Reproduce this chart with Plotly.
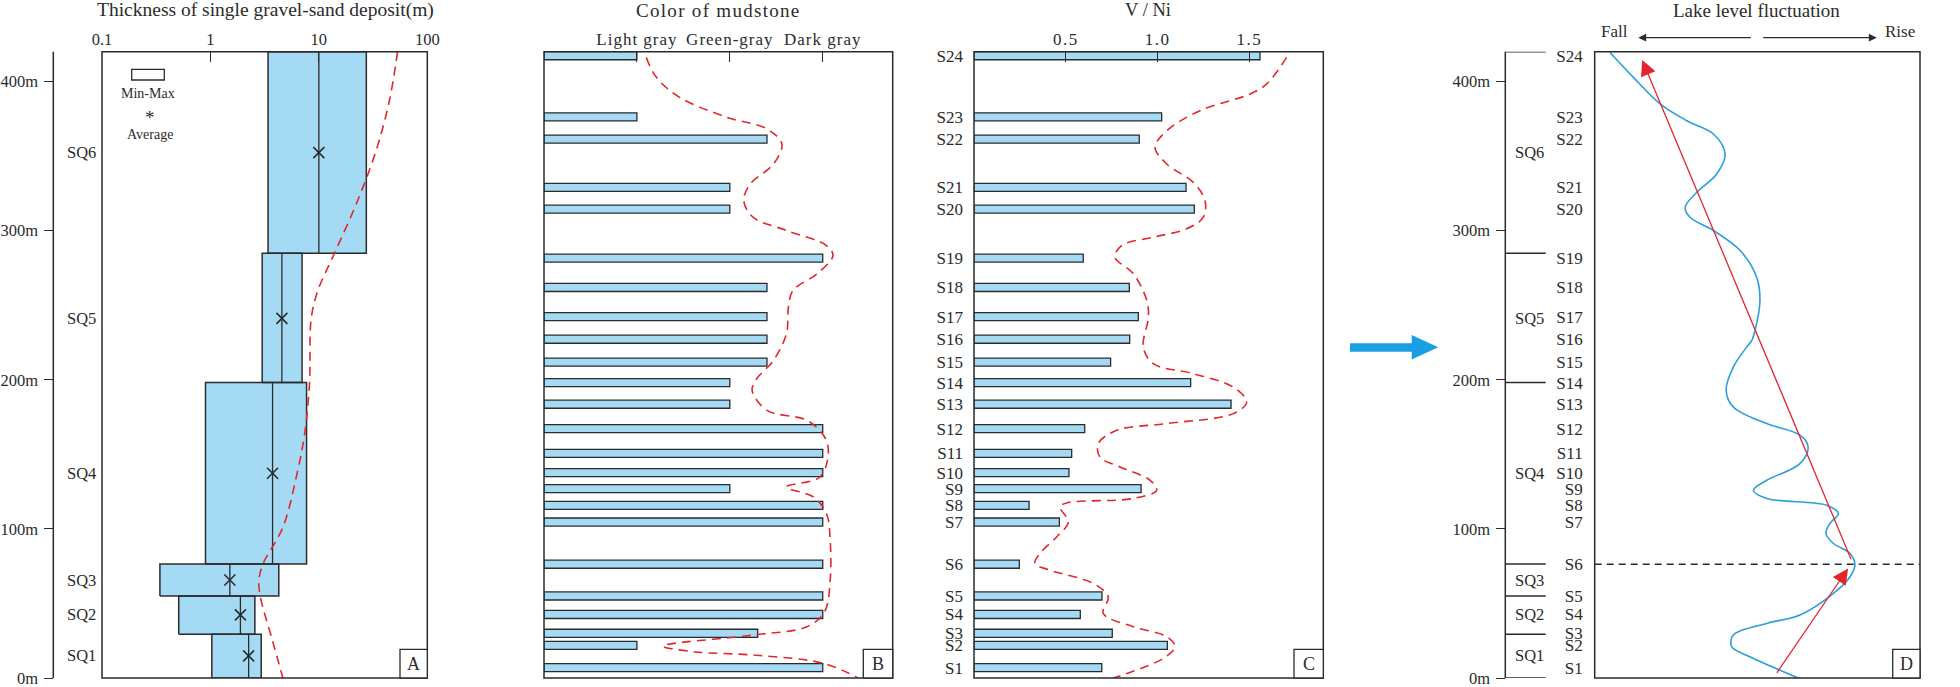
import plotly.graph_objects as go

W, H = 1960, 687


def px(x):
    return x / W


def py(y):
    return 1 - y / H


FONT = "Liberation Serif"
INK = "#2b2b2b"
FILL = "#a5daf4"
RED = "#e3262e"
BLUE = "#2a9fd9"
ARROW_BLUE = "#1a9fe5"

# ---------------- data ----------------
depth_ticks = [0, 100, 200, 300, 400]
depth_labels = ["0m", "100m", "200m", "300m", "400m"]
DEPTH_MAX = 420.0

sq_names = ["SQ1", "SQ2", "SQ3", "SQ4", "SQ5", "SQ6"]
sq_bottom = [0.0, 29.3, 55.0, 76.5, 198.1, 284.8]
sq_top = [29.3, 55.0, 76.5, 198.1, 284.8, 420.0]
sq_mid = [14.8, 42.3, 65.7, 137.3, 241.2, 352.3]

thick_min = [1.03, 0.51, 0.342, 0.90, 3.0, 3.4]
thick_max = [2.94, 2.57, 4.27, 7.7, 7.0, 27.4]
thick_avg = [2.25, 1.89, 1.51, 3.74, 4.56, 10.0]
thick_ticks = [0.1, 1, 10, 100]
thick_ticklabels = ["0.1", "1", "10", "100"]

trendA_depth = [420, 387.1, 353.6, 320.2, 284.7, 259.9, 241.1, 197.6, 164.1, 137.3, 101.1, 76.4, 65.6, 54.9, 25.5, 0]
trendA_val = [53.2, 44.7, 33.7, 22.8, 13.9, 9.8, 8.5, 8.2, 7.4, 6.3, 4.66, 3.05, 2.8, 2.88, 3.72, 4.66]

s_names = ["S%d" % i for i in range(1, 25)]
s_depth = [7.0, 21.9, 30.0, 42.6, 55.0, 76.3, 104.6, 115.8, 127.0, 137.7, 150.6, 167.2,
           183.6, 198.1, 211.8, 227.2, 242.3, 261.9, 281.6, 314.4, 329.0, 361.4, 376.3, 417.3]

color_ticks = [1, 2, 3]
color_labels = ["Light gray", "Green-gray", "Dark gray"]
mud_color = [3, 1, 2.3, 3, 3, 3, 3, 3, 2, 3, 3, 3,
             2, 2, 2.4, 2.4, 2.4, 2.4, 3, 2, 2, 2.4, 1, 1]

trendB_depth = [416.2, 402.8, 389.4, 376.0, 368.2, 358.1, 344.7, 331.3, 320.2, 309.0, 300.1, 290.0,
                283.3, 271.1, 259.9, 248.7, 230.9, 213.0, 200.7, 192.9, 179.5, 172.8, 161.6,
                150.5, 134.8, 128.1, 121.4, 110.3, 92.4, 65.6, 44.4, 34.4, 28.8, 21.4, 17.6, 15.4, 9.8, 0]
trendB_val = [1.10, 1.21, 1.46, 1.97, 2.40, 2.56, 2.47, 2.22, 2.15, 2.25, 2.61, 3.04,
              3.11, 2.94, 2.68, 2.63, 2.61, 2.47, 2.29, 2.24, 2.40, 2.83, 3.02,
              3.06, 2.97, 2.61, 2.90, 3.04, 3.08, 3.08, 3.02, 2.83, 2.25, 1.28, 1.61, 2.25, 3.01, 3.38]

vni_ticks = [0.5, 1.0, 1.5]
vni_ticklabels = ["0.5", "1.0", "1.5"]
vni = [0.696, 1.053, 0.753, 0.579, 0.697, 0.247, 0.465, 0.300, 0.910, 0.517, 0.532, 0.603,
       1.400, 1.180, 0.744, 0.848, 0.895, 0.846, 0.595, 1.200, 1.155, 0.900, 1.022, 1.558]

trendC_depth = [416.2, 398.4, 391.6, 380.4, 367.0, 355.9, 344.7, 332.4, 320.2, 309.0, 301.2, 295.6,
                290.0, 282.2, 271.1, 253.2, 242.0, 221.9, 210.8, 204.1, 195.1, 185.1, 177.3,
                170.6, 166.1, 157.2, 148.2, 141.5, 132.6, 125.9, 120.4, 117.4, 114.7, 104.7,
                94.6, 83.5, 76.8, 72.3, 63.4, 54.5, 43.3, 34.4, 27.7, 21.0, 13.2, 0]
trendC_val = [1.703, 1.594, 1.503, 1.231, 1.050, 0.986, 1.050, 1.194, 1.258, 1.249, 1.158, 0.977,
              0.804, 0.768, 0.868, 0.941, 0.950, 0.922, 0.977, 1.194, 1.412, 1.485, 1.412,
              1.050, 0.777, 0.677, 0.686, 0.795, 0.959, 0.995, 0.868, 0.505, 0.468, 0.514,
              0.450, 0.359, 0.332, 0.414, 0.650, 0.731, 0.704, 0.868, 1.050, 1.095, 1.031, 0.759]

lake_depth = [419.5, 402.8, 385.0, 373.7, 364.8, 351.4, 338.0, 325.7, 315.7, 309.0, 300.1, 286.7,
              268.8, 253.2, 233.1, 226.4, 221.9, 208.5, 192.9, 181.7, 170.6, 162.8, 154.9, 143.8,
              132.6, 125.9, 120.4, 115.9, 110.3, 103.6, 96.9, 90.2, 83.5, 75.7, 67.9, 56.7,
              42.2, 36.6, 28.8, 21.0, 14.3, 0]
lake_level = [0.047, 0.119, 0.201, 0.283, 0.365, 0.401, 0.375, 0.314, 0.278, 0.293, 0.365, 0.447,
              0.498, 0.508, 0.493, 0.483, 0.467, 0.426, 0.404, 0.426, 0.529, 0.631, 0.656, 0.631,
              0.529, 0.488, 0.529, 0.713, 0.749, 0.723, 0.711, 0.734, 0.785, 0.800, 0.785, 0.734,
              0.631, 0.529, 0.426, 0.421, 0.477, 0.626]

# trend arrows (lake level, depth): tail -> head
fall_arrow = [(0.790, 78.7), (0.146, 414.5)]
rise_arrow = [(0.557, 2.5), (0.779, 73.5)]

# ---------------- figure ----------------
fig = go.Figure()

# Panel A: min-max boxes
bx, by = [], []
for lo, hi, b, t in zip(thick_min, thick_max, sq_bottom, sq_top):
    bx += [lo, hi, hi, lo, lo, None]
    by += [b, b, t, t, b, None]
fig.add_trace(go.Scatter(x=bx, y=by, mode="lines", fill="toself", fillcolor=FILL,
                         line=dict(color=INK, width=1.5), xaxis="x", yaxis="y",
                         hoverinfo="skip", showlegend=False))
lx, ly = [], []
for a, b, t in zip(thick_avg, sq_bottom, sq_top):
    lx += [a, a, None]
    ly += [b, t, None]
fig.add_trace(go.Scatter(x=lx, y=ly, mode="lines", line=dict(color=INK, width=1.3),
                         xaxis="x", yaxis="y", hoverinfo="skip", showlegend=False))
fig.add_trace(go.Scatter(x=thick_avg, y=sq_mid, mode="markers",
                         marker=dict(symbol="x-thin", size=11, line=dict(color=INK, width=1.6)),
                         xaxis="x", yaxis="y", showlegend=False))
fig.add_trace(go.Scatter(x=trendA_val, y=trendA_depth, mode="lines",
                         line=dict(color=RED, width=1.6, dash="9px,6px", shape="spline"),
                         xaxis="x", yaxis="y", showlegend=False))

# Panel B
fig.add_trace(go.Bar(y=s_depth, x=mud_color, orientation="h", width=5.4,
                     marker=dict(color=FILL, line=dict(color=INK, width=1.3)),
                     xaxis="x2", yaxis="y2", showlegend=False))
fig.add_trace(go.Scatter(x=trendB_val, y=trendB_depth, mode="lines",
                         line=dict(color=RED, width=1.6, dash="9px,6px", shape="spline"),
                         xaxis="x2", yaxis="y2", showlegend=False))

# Panel C
fig.add_trace(go.Bar(y=s_depth, x=vni, orientation="h", width=5.4,
                     marker=dict(color=FILL, line=dict(color=INK, width=1.3)),
                     xaxis="x3", yaxis="y3", showlegend=False))
fig.add_trace(go.Scatter(x=trendC_val, y=trendC_depth, mode="lines",
                         line=dict(color=RED, width=1.6, dash="9px,6px", shape="spline"),
                         xaxis="x3", yaxis="y3", showlegend=False))

# Panel D
fig.add_trace(go.Scatter(x=lake_level, y=lake_depth, mode="lines",
                         line=dict(color=BLUE, width=1.6, shape="spline"),
                         xaxis="x4", yaxis="y4", showlegend=False))
# invisible carrier so the free depth axis of panel D gets drawn
fig.add_trace(go.Scatter(x=[0, 0], y=[0, DEPTH_MAX], mode="markers", marker=dict(opacity=0),
                         xaxis="x4", yaxis="y5", hoverinfo="skip", showlegend=False))

ydom = [py(678), py(51.7)]
tickfont = dict(family=FONT, size=16.5, color=INK)
sfont = dict(family=FONT, size=17, color=INK)

common_x = dict(showgrid=False, zeroline=False, showline=False, side="top", automargin=False,
                ticks="inside", ticklen=10, tickwidth=1.3, tickcolor=INK, tickfont=tickfont,
                ticklabelstandoff=2, ticklabeloverflow="allow")
hidden_y = dict(domain=ydom, range=[0, DEPTH_MAX], showgrid=False, zeroline=False,
                showline=False, automargin=False, ticklabeloverflow="allow")
depth_axis = dict(range=[0, DEPTH_MAX], anchor="free", showgrid=False, zeroline=False,
                  showline=False, automargin=False, ticks="outside", ticklen=9, tickwidth=1.3,
                  tickcolor=INK, tickvals=depth_ticks, ticktext=depth_labels, tickfont=tickfont,
                  ticklabelstandoff=3, ticklabeloverflow="allow")

fig.update_layout(
    width=W, height=H, margin=dict(l=0, r=0, t=0, b=0, pad=0, autoexpand=False),
    paper_bgcolor="white", plot_bgcolor="white", showlegend=False,
    font=dict(family=FONT, color=INK),
    xaxis=dict(common_x, type="log", range=[-1, 2], domain=[px(102), px(427.3)], anchor="y",
               tickvals=thick_ticks, ticktext=thick_ticklabels),
    yaxis=dict(depth_axis, domain=ydom, position=px(53.3)),
    xaxis2=dict(common_x, range=[0, 3.753], domain=[px(544), px(892.7)], anchor="y2",
                tickvals=color_ticks,
                ticktext=['<span style="letter-spacing:1px">%s</span>' % t for t in color_labels],
                tickfont=dict(family=FONT, size=17, color=INK)),
    yaxis2=dict(hidden_y, anchor="x2", showticklabels=False, ticks=""),
    xaxis3=dict(common_x, range=[0, 1.9025], domain=[px(974), px(1323.3)], anchor="y3",
                tickvals=vni_ticks,
                ticktext=['<span style="letter-spacing:1.5px">%s</span>' % t for t in vni_ticklabels],
                tickfont=dict(family=FONT, size=17, color=INK)),
    yaxis3=dict(hidden_y, anchor="x3", ticks="", tickvals=s_depth, ticktext=s_names,
                tickfont=sfont, ticklabelstandoff=10),
    xaxis4=dict(range=[0, 1], domain=[px(1594.7), px(1920)], anchor="y4", showgrid=False,
                zeroline=False, showline=False, showticklabels=False, ticks="", automargin=False),
    yaxis4=dict(hidden_y, anchor="x4", ticks="", tickvals=s_depth, ticktext=s_names,
                tickfont=sfont, ticklabelstandoff=11),
    yaxis5=dict(depth_axis, overlaying="y4", position=px(1505.3)),
)

shapes = []
# frames
for xr, yr in [("x", "y"), ("x2", "y2"), ("x3", "y3"), ("x4", "y4")]:
    shapes.append(dict(type="rect", xref=xr + " domain", yref=yr + " domain", x0=0, x1=1, y0=0, y1=1,
                       line=dict(color=INK, width=1.5), layer="above"))
# depth axis lines
for xpos, yr in [(53.3, "y domain"), (1505.3, "y4 domain")]:
    shapes.append(dict(type="line", xref="paper", yref=yr, x0=px(xpos), x1=px(xpos), y0=0, y1=1,
                       line=dict(color=INK, width=1.5)))
# panel letter boxes
letter_boxes = [("A", 400, 427.3), ("B", 863.3, 892.7), ("C", 1294, 1323.3), ("D", 1892.7, 1920)]
annotations = []
for letter, x0, x1 in letter_boxes:
    shapes.append(dict(type="rect", xref="paper", yref="paper", x0=px(x0), x1=px(x1),
                       y0=py(678), y1=py(649.3), line=dict(color=INK, width=1.3),
                       fillcolor="white", layer="above"))
    annotations.append(dict(x=px((x0 + x1) / 2), y=py(663.5), xref="paper", yref="paper",
                            text=letter, showarrow=False, xanchor="center", yanchor="middle",
                            font=dict(family=FONT, size=18, color=INK)))
# legend in panel A
shapes.append(dict(type="rect", xref="paper", yref="paper", x0=px(131.7), x1=px(164.3),
                   y0=py(80), y1=py(69.3), line=dict(color=INK, width=1.3), fillcolor="white"))
annotations += [
    dict(x=px(148), y=py(93.5), xref="paper", yref="paper", text="Min-Max", showarrow=False,
         xanchor="center", yanchor="middle", font=dict(family=FONT, size=14, color=INK)),
    dict(x=px(149.5), y=py(117), xref="paper", yref="paper", text="*", showarrow=False,
         xanchor="center", yanchor="middle", font=dict(family=FONT, size=19, color=INK)),
    dict(x=px(149.5), y=py(134.3), xref="paper", yref="paper", text="Average", showarrow=False,
         xanchor="center", yanchor="middle", font=dict(family=FONT, size=14, color=INK)),
]
# SQ labels
for name, m in zip(sq_names, sq_mid):
    annotations.append(dict(x=px(81.5), y=m, xref="paper", yref="y", text=name, showarrow=False,
                            xanchor="center", yanchor="middle",
                            font=dict(family=FONT, size=16.5, color=INK)))
    annotations.append(dict(x=px(1529.5), y=m, xref="paper", yref="y4", text=name, showarrow=False,
                            xanchor="center", yanchor="middle",
                            font=dict(family=FONT, size=16.5, color=INK)))
# SQ boundary lines in panel D
for b in sorted(set(sq_bottom + sq_top)):
    shapes.append(dict(type="line", xref="paper", yref="y4", x0=px(1505.3), x1=px(1545.7),
                       y0=b, y1=b, line=dict(color=INK, width=1.5)))
# S6 dashed line
shapes.append(dict(type="line", xref="x4 domain", yref="y4", x0=0, x1=1, y0=s_depth[5], y1=s_depth[5],
                   line=dict(color=INK, width=1.6, dash="7px,5px")))
# big blue arrow between C and D
shapes.append(dict(type="path", xref="paper", yref="paper",
                   path="M %f,%f L %f,%f L %f,%f L %f,%f L %f,%f L %f,%f L %f,%f Z" % (
                       px(1350), py(343.3), px(1411.7), py(343.3), px(1411.7), py(335),
                       px(1438.3), py(347.3), px(1411.7), py(359.5), px(1411.7), py(351.7),
                       px(1350), py(351.7)),
                   fillcolor=ARROW_BLUE, line=dict(width=0)))

# titles
titles = [
    ("Thickness of single gravel-sand deposit(m)", 265, 19.5, 0),
    ("Color of mudstone", 718, 19, 1.3),
    ("V / Ni", 1148, 18.5, 0),
    ("Lake level fluctuation", 1756.7, 19, 0),
]
for t, cx, fs, ls in titles:
    txt = t if ls == 0 else '<span style="letter-spacing:%spx">%s</span>' % (ls, t)
    annotations.append(dict(x=px(cx), y=py(10.5), xref="paper", yref="paper", text=txt,
                            showarrow=False, xanchor="center", yanchor="middle",
                            font=dict(family=FONT, size=fs, color=INK)))
# Fall / Rise
annotations += [
    dict(x=px(1614.7), y=py(32), xref="paper", yref="paper", text="Fall", showarrow=False,
         xanchor="center", yanchor="middle", font=dict(family=FONT, size=17, color=INK)),
    dict(x=px(1900), y=py(32), xref="paper", yref="paper", text="Rise", showarrow=False,
         xanchor="center", yanchor="middle", font=dict(family=FONT, size=17, color=INK)),
    dict(x=px(1638.3), y=py(37.7), xref="paper", yref="paper", ax=114, ay=0, axref="pixel",
         ayref="pixel", text="", showarrow=True, arrowhead=2, arrowsize=1.2, arrowwidth=1.3,
         arrowcolor=INK, standoff=0, startstandoff=0),
    dict(x=px(1876.7), y=py(37.7), xref="paper", yref="paper", ax=-115, ay=0, axref="pixel",
         ayref="pixel", text="", showarrow=True, arrowhead=2, arrowsize=1.2, arrowwidth=1.3,
         arrowcolor=INK, standoff=0, startstandoff=0),
]
# red trend arrows in D
for (tx, ty), (hx, hy) in [fall_arrow, rise_arrow]:
    annotations.append(dict(x=hx, y=hy, ax=tx, ay=ty, xref="x4", yref="y4", axref="x4", ayref="y4",
                            text="", showarrow=True, arrowhead=2, arrowsize=2.4, arrowwidth=1.3,
                            arrowcolor=RED, standoff=0, startstandoff=0))

fig.update_layout(shapes=shapes, annotations=annotations)
fig.write_html("out.html", config={"displayModeBar": False},
               post_script="document.body.style.margin='0px';document.body.style.overflow='hidden';")
